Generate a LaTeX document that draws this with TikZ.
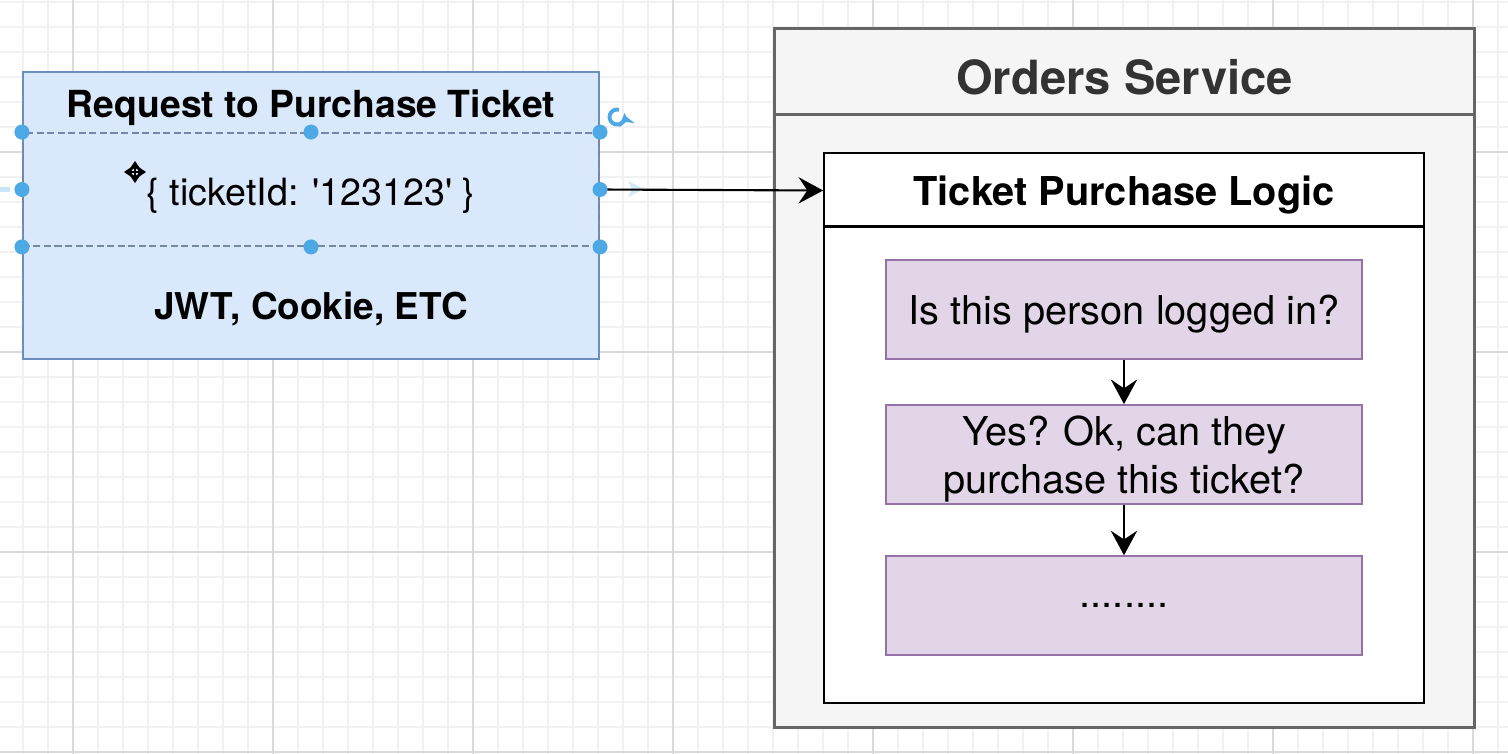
\documentclass[tikz,border=0pt]{standalone}
\usepackage{fontspec}
\setmainfont{TeX Gyre Heros}
\usetikzlibrary{arrows,arrows.meta,positioning}

\definecolor{reqfill}{HTML}{DAE8FC}
\definecolor{reqline}{HTML}{6C8EBF}
\definecolor{svcfill}{HTML}{F5F5F5}
\definecolor{svcline}{HTML}{666666}
\definecolor{svctext}{HTML}{333333}
\definecolor{stepfill}{HTML}{E1D5E7}
\definecolor{stepline}{HTML}{9673A6}
\definecolor{handle}{HTML}{4DA8E6}
\definecolor{gridminor}{HTML}{F1F1F1}
\definecolor{gridmajor}{HTML}{DADADA}

\begin{document}
\begin{tikzpicture}[
                    x = 0.01cm, y = -0.01cm,
                    >={Stealth[length = 7pt, width = 7.5pt, inset = 2.5pt]},
                    align = center,
                    node distance = 0.44cm,
                    box/.style = {draw, rectangle, inner sep = 0pt, line width = 0.6pt},
                    reqbox/.style = {box, draw = reqline, fill = reqfill, minimum width = 5.76cm, minimum height = 2.87cm},
                    rowbox/.style = {rectangle, inner sep = 0pt, minimum width = 5.76cm, minimum height = 1.13cm},
                    svcbox/.style = {box, draw = svcline, fill = svcfill, line width = 0.8pt, minimum width = 6.99cm, minimum height = 6.98cm},
                    logicbox/.style = {box, draw = black, fill = white, line width = 0.7pt, minimum width = 6.00cm, minimum height = 5.50cm},
                    stepbox/.style = {box, draw = stepline, fill = stepfill, minimum width = 4.76cm, minimum height = 0.99cm,
                                      text depth = 0pt, font = \fontsize{11.3pt}{13.4pt}\selectfont},
                    bigtitle/.style = {font = \bfseries\fontsize{13.4pt}{16pt}\selectfont, text = svctext},
                    boxtitle/.style = {font = \bfseries\fontsize{10.6pt}{12.7pt}\selectfont},
                    link/.style = {->, line width = 0.6pt},
                    tinytip/.style = {{Stealth[length = 3pt, width = 4pt]}-{Stealth[length = 3pt, width = 4pt]}}]
    % canvas and grid
    \fill[white] (0,0) rectangle (1508,754);
    \useasboundingbox (0,0) rectangle (1508,754);
    \foreach \gx in {-2,23,...,1508} \draw[gridminor, line width = 0.4pt] (\gx,0) -- (\gx,754);
    \foreach \gy in {2,27,...,754} \draw[gridminor, line width = 0.4pt] (0,\gy) -- (1508,\gy);
    \foreach \gx in {73,273,...,1473} \draw[gridmajor, line width = 0.4pt] (\gx,0) -- (\gx,754);
    \foreach \gy in {152,352,552,752} \draw[gridmajor, line width = 0.4pt] (0,\gy) -- (1508,\gy);

    % request
    \node[reqbox] (req) at (311,215.5) {};
    \node[boxtitle] (reqtitle) at (311,108) {Request to Purchase Ticket};
    \node[rowbox, draw = reqline!60!gray, dash pattern = on 2pt off 1pt, line width = 0.5pt] (reqid) at (311,189.5) {};
    \node[font = \fontsize{10.7pt}{12.8pt}\selectfont] (reqtext) at (311,196)
          {\{ ticketId: \textquotesingle 123123\textquotesingle\ \}};
    \node[boxtitle, font = \bfseries\fontsize{10.5pt}{12.6pt}\selectfont] (reqauth) at (311,309) {JWT, Cookie, ETC};

    % orders service
    \node[svcbox] (orders) at (1124.5,378) {};
    \draw[svcline, line width = 0.8pt] ([yshift = -0.87cm]orders.north west) -- ([yshift = -0.87cm]orders.north east);
    \node[bigtitle] (orderstitle) at (1124.5,77) {Orders Service};

    \node[logicbox] (logic) at (1124,428) {};
    \draw[line width = 0.7pt] ([yshift = -0.75cm]logic.north west) -- ([yshift = -0.75cm]logic.north east);
    \node[rowbox, minimum width = 6.00cm, minimum height = 0.75cm, text depth = 0pt,
          font = \bfseries\fontsize{11.3pt}{13.4pt}\selectfont] (logichead) at (1124,190.5) {Ticket Purchase Logic};

    \node[stepbox]                    (step1) at (1124,309.5) {Is this person logged in?};
    \node[stepbox, below = of step1]  (step2) {Yes? Ok, can they\\purchase this ticket?};
    \node[stepbox, below = 0.50cm of step2] (step3) {........};

    % hover hints
    \fill[handle!30] (0,186.5) rectangle (10,191.5);
    \fill[handle!25] (628,181) -- (644,189) -- (628,197) -- (632,189) -- cycle;

    % connectors
    \draw[link] (reqid.east) -- (logichead.west);
    \draw[link] (step1) -- (step2);
    \draw[link] (step2) -- (step3);

    % selection handles
    \foreach \a in {north west, north, north east, west, east, south west, south, south east}
        \fill[handle] (reqid.\a) circle (0.075cm);
    \coordinate (rotc) at (617,117);
    \draw[handle, line width = 1.1pt, -{Stealth[length = 3pt, width = 4.5pt]}]
        ([shift = {(75:0.075cm)}]rotc) arc (75:375:0.075cm);
    \coordinate (movec) at (135,172);
    \draw[line width = 0.8pt, tinytip] ([xshift = -0.11cm]movec) -- ([xshift = 0.11cm]movec);
    \draw[line width = 0.8pt, tinytip] ([yshift = -0.11cm]movec) -- ([yshift = 0.11cm]movec);
\end{tikzpicture}
\end{document}
